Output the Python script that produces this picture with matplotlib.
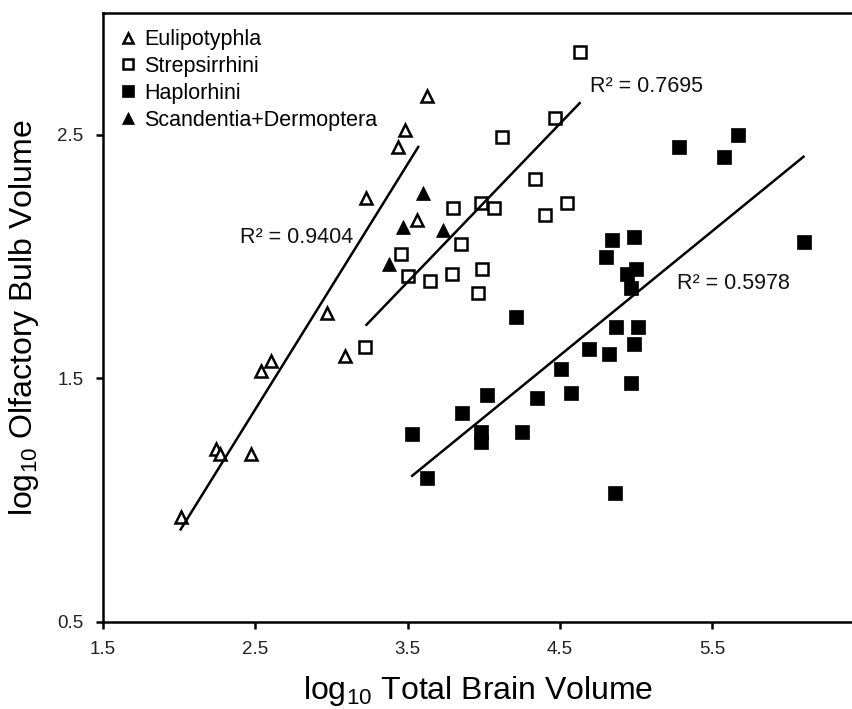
import matplotlib
matplotlib.use('Agg')
import matplotlib.pyplot as plt

plt.rcParams['font.family'] = ['Liberation Sans', 'DejaVu Sans']
plt.rcParams['mathtext.fontset'] = 'custom'
plt.rcParams['mathtext.rm'] = 'Liberation Sans'
plt.rcParams['mathtext.it'] = 'Liberation Sans'

# Eulipotyphla (open triangles)
eul_x = [2.01, 2.24, 2.27, 2.47, 2.54, 2.60, 2.97, 3.09, 3.23, 3.44, 3.48, 3.56, 3.63]
eul_y = [0.93, 1.21, 1.19, 1.19, 1.53, 1.57, 1.77, 1.59, 2.24, 2.45, 2.52, 2.15, 2.66]

# Strepsirrhini (open squares)
str_x = [4.63, 4.47, 4.12, 4.34, 3.80, 3.98, 4.07, 4.40, 4.55, 3.85, 3.65, 3.79,
         3.99, 3.96, 3.46, 3.50, 3.22]
str_y = [2.84, 2.57, 2.49, 2.32, 2.20, 2.22, 2.20, 2.17, 2.22, 2.05, 1.90, 1.93,
         1.95, 1.85, 2.01, 1.92, 1.63]

# Haplorhini (filled squares)
hap_x = [5.28, 5.67, 5.58, 6.10, 4.99, 4.84, 4.80, 5.00, 4.94, 4.97, 4.21, 4.87,
         5.01, 4.99, 4.69, 4.82, 4.51, 4.57, 4.35, 4.02, 3.86, 3.98, 3.98, 4.25,
         3.63, 4.86, 4.97, 3.53]
hap_y = [2.45, 2.50, 2.41, 2.06, 2.08, 2.07, 2.00, 1.95, 1.93, 1.87, 1.75, 1.71,
         1.71, 1.64, 1.62, 1.60, 1.54, 1.44, 1.42, 1.43, 1.36, 1.28, 1.24, 1.28,
         1.09, 1.03, 1.48, 1.27]

# Scandentia + Dermoptera (filled triangles)
sca_x = [3.60, 3.47, 3.38, 3.73]
sca_y = [2.26, 2.12, 1.97, 2.11]

# trend lines (end points) and their R² labels
eul_fit_x, eul_fit_y = [2.01, 3.57], [0.88, 2.45]
str_fit_x, str_fit_y = [3.23, 4.63], [1.72, 2.63]
hap_fit_x, hap_fit_y = [3.53, 6.10], [1.10, 2.41]
r2_labels = ['R² = 0.9404', 'R² = 0.7695', 'R² = 0.5978']
r2_x = [2.40, 4.70, 5.27]
r2_y = [2.08, 2.70, 1.89]

fig = plt.figure(figsize=(8.53, 7.09), dpi=100)
ax = fig.add_axes([103 / 853, 87 / 709, 750 / 853, 609 / 709])

ms = 8.5
ax.plot(eul_x, eul_y, ls='none', marker='^', ms=ms, mfc='white', mec='black',
        mew=1.8, label='Eulipotyphla')
ax.plot(str_x, str_y, ls='none', marker='s', ms=ms, mfc='white', mec='black',
        mew=1.8, label='Strepsirrhini')
ax.plot(hap_x, hap_y, ls='none', marker='s', ms=ms + 1, mfc='black', mec='black',
        mew=0.5, label='Haplorhini')
ax.plot(sca_x, sca_y, ls='none', marker='^', ms=ms + 1, mfc='black', mec='black',
        mew=0.5, label='Scandentia+Dermoptera')

for fx, fy in [(eul_fit_x, eul_fit_y), (str_fit_x, str_fit_y), (hap_fit_x, hap_fit_y)]:
    ax.plot(fx, fy, color='black', lw=1.8)

for txt, tx, ty in zip(r2_labels, r2_x, r2_y):
    ax.text(tx, ty, txt, fontsize=15.5, ha='left', va='center', color='#111')

ax.set_xlim(1.5, 6.425)
ax.set_ylim(0.5, 3.0)
ax.set_xticks([1.5, 2.5, 3.5, 4.5, 5.5])
ax.set_yticks([0.5, 1.5, 2.5])
ax.tick_params(direction='out', length=5, width=1.8, labelsize=13.5,
               labelcolor='#222')
ax.tick_params(axis='x', pad=9)
ax.tick_params(axis='y', pad=9)
for side in ['left', 'bottom', 'top']:
    ax.spines[side].set_linewidth(1.8)
ax.spines['right'].set_visible(False)

ax.set_xlabel(r'log$_{10}$ Total Brain Volume', fontsize=23, labelpad=11)
ax.set_ylabel(r'log$_{10}$ Olfactory Bulb Volume', fontsize=23, labelpad=12)

ax.legend(loc='upper left', bbox_to_anchor=(0.0, 1.0), frameon=False,
          fontsize=15.5, handlelength=0.8, handletextpad=0.35, labelspacing=0.27,
          markerscale=0.85, borderaxespad=0.45, borderpad=0.3)

fig.savefig('out.png', dpi=100)
